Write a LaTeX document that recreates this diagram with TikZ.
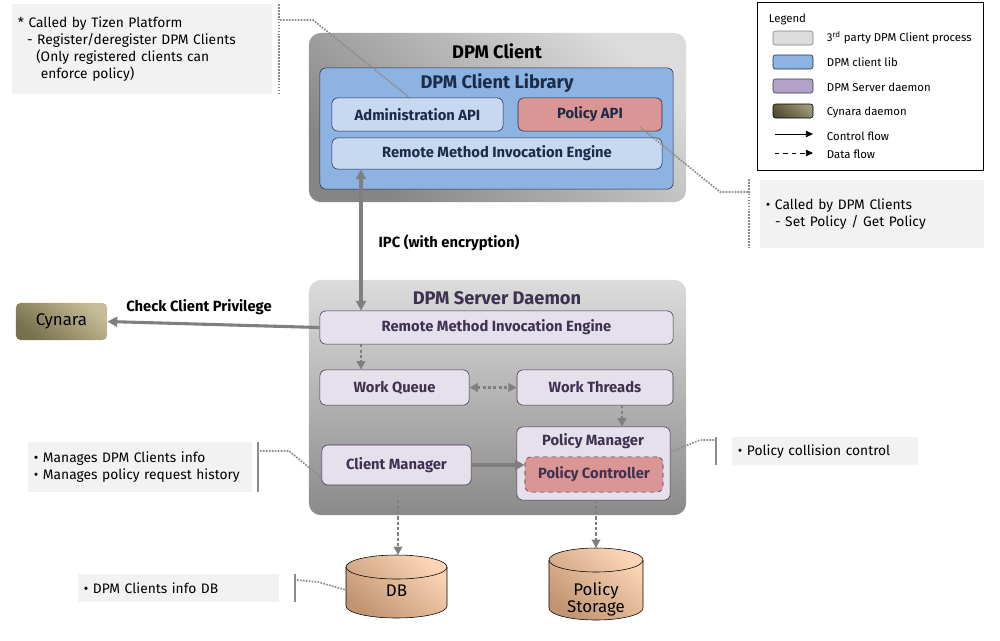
\documentclass[tikz,border=0pt]{standalone}
\usepackage{fontspec}
\setmainfont{Fira Sans}
\usetikzlibrary{arrows.meta}
\definecolor{notegray}{HTML}{F2F2F2}
\definecolor{linegray}{HTML}{8C8C8C}
\definecolor{arrowgray}{HTML}{7F7F7F}
\definecolor{shadehi}{HTML}{DCDCDC}
\definecolor{shadelo}{HTML}{858585}
\definecolor{serverlo}{HTML}{8A8A8A}
\definecolor{libblue}{HTML}{8DB3E2}
\definecolor{apiblue}{HTML}{C6D9F1}
\definecolor{navy}{HTML}{1C2B48}
\definecolor{rose}{HTML}{D99694}
\definecolor{lilac}{HTML}{E6E0EC}
\definecolor{plum}{HTML}{3F3151}
\definecolor{lavender}{HTML}{B3A2C7}
\definecolor{olivehi}{HTML}{C4BD97}
\definecolor{olivelo}{HTML}{77704C}
\definecolor{peachhi}{HTML}{FBD5B5}
\definecolor{peachlo}{HTML}{C29572}

\begin{document}
\begin{tikzpicture}[x=0.025cm,y=-0.025cm,
  ttl/.style={font=\fontsize{13}{15}\selectfont\bfseries},
  lbl/.style={font=\fontsize{10.5}{12}\selectfont\bfseries},
  txt/.style={font=\fontsize{9.8}{12.2}\selectfont, align=left},
  lgd/.style={font=\fontsize{8.1}{9}\selectfont, anchor=west},
  outer/.style={rounded corners=0.3cm, top color=shadehi, bottom color=shadelo, shading angle=-40, minimum width=9.43cm},
  api/.style={draw=navy, rounded corners=0.15cm, fill=apiblue, text=navy, lbl, minimum height=0.83cm},
  svc/.style={draw=plum, rounded corners=0.15cm, fill=lilac, text=plum, lbl, minimum height=0.83cm},
  note/.style={fill=notegray, txt, text width=#1, inner sep=4pt},
  swatch/.style={draw=#1, rounded corners=0.06cm, minimum width=1cm, minimum height=0.35cm},
  drum/.style={draw=black, top color=peachhi, bottom color=peachlo, shading angle=-40},
  drumtxt/.style={font=\fontsize{12}{15}\selectfont, align=center},
  ctl/.style={arrowgray, line width=2.2pt, -{Triangle[length=7pt,width=7pt]}},
  dat/.style={arrowgray, line width=2pt, dash pattern=on 2.2pt off 1.6pt, -{Triangle[length=6pt,width=6pt]}},
  callout/.style={linegray, line width=1.2pt, dash pattern=on 1.2pt off 0.9pt},
  bracket/.style={linegray, line width=1pt}]
\useasboundingbox (0,0) rectangle (1000,640);

\node[outer, minimum height=4.23cm] (client) at (497.5,117.5) {};
\node[ttl] (clientttl) at (497,51) {DPM Client};
\node[draw=navy, rounded corners=0.15cm, fill=libblue, minimum width=8.83cm, minimum height=3.03cm] (lib) at (496.5,128.5) {};
\node[ttl, text=navy] (libttl) at (497,83) {DPM Client Library};
\node[api, minimum width=4.28cm] (admin) at (417.5,114.5) {Administration API};
\node[api, fill=rose, minimum width=3.6cm] (polapi) at (590,114.5) {Policy API};
\node[api, minimum width=8.25cm, minimum height=0.78cm] (rmic) at (497,153.5) {Remote Method Invocation Engine};

\node[outer, bottom color=serverlo, minimum height=5.88cm] (server) at (497.5,397.5) {};
\node[ttl, text=plum] (serverttl) at (497,298) {DPM Server Daemon};
\node[svc, minimum width=8.83cm] (rmis) at (496.5,327.5) {Remote Method Invocation Engine};
\node[svc, minimum width=3.73cm, minimum height=0.88cm] (queue) at (394.5,387.5) {Work Queue};
\node[svc, minimum width=3.9cm, minimum height=0.88cm] (threads) at (595,387.5) {Work Threads};
\node[svc, minimum width=3.73cm, minimum height=1cm] (climgr) at (396.5,465) {Client Manager};
\node[svc, minimum width=3.83cm, minimum height=1.83cm] (polmgr) at (593.5,463.5) {};
\node[lbl, text=plum] (polmgrttl) at (593,441) {Policy Manager};
\node[svc, fill=rose, dashed, minimum width=3.45cm, minimum height=0.88cm] (polctl) at (594,474.5) {Policy Controller};

\node[rounded corners=0.12cm, top color=olivehi, bottom color=olivelo, shading angle=-40, minimum width=2.28cm, minimum height=0.93cm, font=\fontsize{12}{14}\selectfont] (cynara) at (61.5,321.5) {Cynara};

\shade[drum] (346,567) -- (346,606) arc[start angle=180, end angle=360, x radius=1.2625cm, y radius=0.3cm] -- (447,567) arc[start angle=0, end angle=180, x radius=1.2625cm, y radius=0.3cm] -- cycle;
\draw (346,567) arc[start angle=180, end angle=360, x radius=1.2625cm, y radius=0.3cm];
\node[drumtxt] (db) at (396.5,591) {DB};
\coordinate (dbtop) at (398,555);

\shade[drum] (549,560) -- (549,608) arc[start angle=180, end angle=360, x radius=1.175cm, y radius=0.3cm] -- (643,560) arc[start angle=0, end angle=180, x radius=1.175cm, y radius=0.3cm] -- cycle;
\draw (549,560) arc[start angle=180, end angle=360, x radius=1.175cm, y radius=0.3cm];
\node[drumtxt] (storage) at (596,599) {Policy\\[-3pt]Storage};
\coordinate (storagetop) at (596,548);

\draw[ctl, {Triangle[length=7pt,width=7pt]}-{Triangle[length=7pt,width=7pt]}] (rmic.south -| 361,0) -- (rmis.north -| 361,0);
\node[lbl] (ipc) at (449,243) {IPC (with encryption)};
\draw[ctl] (rmis.west) -- (cynara.east);
\node[lbl] (privilege) at (199,307) {Check Client Privilege};
\draw[dat] (rmis.south -| 361,0) -- (queue.north -| 361,0);
\draw[dat, {Triangle[length=6pt,width=6pt]}-{Triangle[length=6pt,width=6pt]}] (queue.east) -- (threads.west);
\draw[dat] (threads.south -| 622,0) -- (polmgr.north -| 622,0);
\draw[ctl] (climgr.east) -- (climgr.east -| polctl.west);
\draw[dat] (dbtop |- polmgr.south) -- (dbtop);
\draw[dat] (storagetop |- polmgr.south) -- (storagetop);

\node[note=6.2cm, minimum height=2.25cm, anchor=north west] (tizen) at (12,4) {* Called by Tizen Platform\\
\ \ - Register/deregister DPM Clients\\
\ \ \ \ (Only registered clients can\\
\ \ \ \ \ enforce policy)};
\coordinate (tizenbend) at (313,20);
\draw[callout] (279,4) -- (279,93);
\draw[callout] (280,20) -- (tizenbend) -- (410,98);

\node[note=5.3cm, minimum height=1.68cm, anchor=north west] (clients) at (760,180) {• Called by DPM Clients\\
\ \ - Set Policy / Get Policy};
\coordinate (clientsbend) at (720,192);
\draw[callout] (749,179) -- (749,247);
\draw[callout] (748,192) -- (clientsbend) -- (640,127);

\node[note=5.3cm, minimum height=1.25cm, anchor=north west] (manages) at (28,442) {• Manages DPM Clients info\\
• Manages policy request history};
\coordinate (managesbend) at (289,451);
\draw[bracket] (258,442) -- (258,492);
\draw[callout] (260,451) -- (managesbend) -- (climgr.south west |- 0,478);

\node[note=4.35cm, minimum height=0.7cm, anchor=north west] (collision) at (732,437) {• Policy collision control};
\coordinate (collisionbend) at (700,440);
\draw[bracket] (716,437) -- (716,465);
\draw[callout] (714,440) -- (collisionbend) -- (polmgr.east |- 0,452);

\node[note=4.73cm, minimum height=0.7cm, anchor=north west] (dbinfo) at (78,574) {• DPM Clients info DB};
\coordinate (dbinfobend) at (318,582);
\draw[bracket] (295,574) -- (295,602);
\draw[callout] (297,580) -- (dbinfobend) -- (346,590);

\node[draw=black, line width=0.8pt, minimum width=5.63cm, minimum height=4.18cm] (legend) at (870.5,86.5) {};
\node[lgd] (legendttl) at (764,19) {Legend};
\node[swatch=gray, fill=shadehi] (sw1) at (793,38) {};
\node[lgd] at (822,38) {3\textsuperscript{rd} party DPM Client process};
\node[swatch=navy, fill=libblue] (sw2) at (793,62) {};
\node[lgd] at (822,62) {DPM client lib};
\node[swatch=plum, fill=lavender] (sw3) at (793,86) {};
\node[lgd] at (822,87) {DPM Server daemon};
\node[swatch=black, top color=olivehi!80!black, bottom color=olivelo!70!black, shading angle=-40] (sw4) at (793,111) {};
\node[lgd] at (822,112) {Cynara daemon};
\draw[-{Triangle[length=5pt,width=4.5pt]}, thin] (775,134) -- (813,134);
\node[lgd] at (822,136) {Control flow};
\draw[-{Triangle[length=5pt,width=4.5pt]}, thin, dashed] (775,153) -- (813,153);
\node[lgd] at (822,154) {Data flow};
\end{tikzpicture}
\end{document}
